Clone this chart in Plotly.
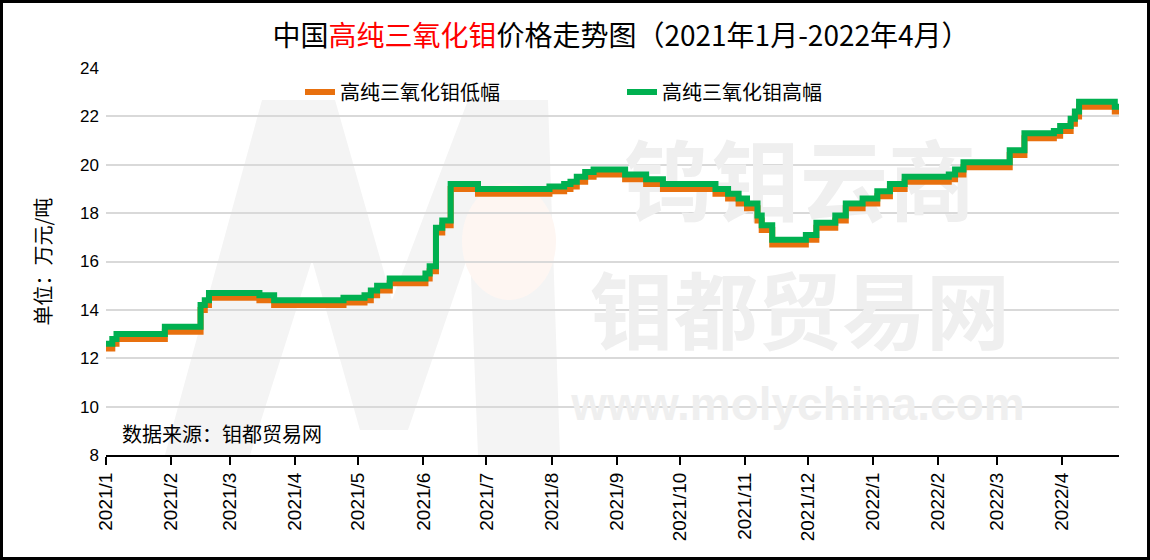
import plotly.graph_objects as go
import pandas as pd

# ---------------- data ----------------
change_dates = [
    "2021-01-01", "2021-01-04", "2021-01-06", "2021-01-29", "2021-02-15", "2021-02-17",
    "2021-02-19", "2021-03-15", "2021-03-22", "2021-04-24", "2021-05-04", "2021-05-07",
    "2021-05-10", "2021-05-16", "2021-06-02", "2021-06-04", "2021-06-07", "2021-06-10",
    "2021-06-14", "2021-06-27", "2021-07-31", "2021-08-07", "2021-08-10", "2021-08-13",
    "2021-08-17", "2021-08-21", "2021-09-05", "2021-09-15", "2021-09-23", "2021-10-18",
    "2021-10-24", "2021-10-29", "2021-11-02", "2021-11-07", "2021-11-09", "2021-11-14",
    "2021-11-30", "2021-12-05", "2021-12-14", "2021-12-19", "2021-12-27", "2022-01-03",
    "2022-01-09", "2022-01-16", "2022-02-06", "2022-02-09", "2022-02-13", "2022-03-07",
    "2022-03-14", "2022-03-28", "2022-03-31", "2022-04-05", "2022-04-07", "2022-04-09",
    "2022-04-26", "2022-04-28",
]
high_price = [
    12.6, 12.8, 13.0, 13.3, 14.2, 14.4,
    14.7, 14.6, 14.4, 14.5, 14.6, 14.8,
    15.0, 15.3, 15.5, 15.8, 17.4, 17.7,
    19.2, 19.0, 19.1, 19.2, 19.3, 19.5,
    19.7, 19.8, 19.6, 19.4, 19.2, 19.0,
    18.8, 18.6, 18.4, 17.9, 17.5, 16.9,
    17.1, 17.6, 17.9, 18.4, 18.6, 18.9,
    19.2, 19.5, 19.6, 19.8, 20.1, 20.6,
    21.3, 21.4, 21.6, 21.9, 22.2, 22.6,
    22.4, 22.4,
]
low_price = [
    12.4, 12.6, 12.8, 13.1, 14.0, 14.2,
    14.5, 14.4, 14.2, 14.3, 14.4, 14.6,
    14.8, 15.1, 15.3, 15.6, 17.2, 17.5,
    19.0, 18.8, 18.9, 19.0, 19.1, 19.3,
    19.5, 19.6, 19.4, 19.2, 19.0, 18.8,
    18.6, 18.4, 18.2, 17.7, 17.3, 16.7,
    16.9, 17.4, 17.7, 18.2, 18.4, 18.7,
    19.0, 19.3, 19.4, 19.6, 19.9, 20.4,
    21.1, 21.2, 21.4, 21.7, 22.0, 22.4,
    22.2, 22.2,
]
series_names = ["高纯三氧化钼低幅", "高纯三氧化钼高幅"]

month_ticks = [
    "2021-01-01", "2021-02-01", "2021-03-01", "2021-04-01", "2021-05-01", "2021-06-01",
    "2021-07-01", "2021-08-01", "2021-09-01", "2021-10-01", "2021-11-01", "2021-12-01",
    "2022-01-01", "2022-02-01", "2022-03-01", "2022-04-01",
]
month_labels = [
    "2021/1", "2021/2", "2021/3", "2021/4", "2021/5", "2021/6", "2021/7", "2021/8",
    "2021/9", "2021/10", "2021/11", "2021/12", "2022/1", "2022/2", "2022/3", "2022/4",
]
y_ticks = [8, 10, 12, 14, 16, 18, 20, 22, 24]

# ---------------- layout constants ----------------
W, H = 1150, 560
ML, MR, MT, MB = 106, 31, 68, 105
PW, PH = W - ML - MR, H - MT - MB
X_START, X_END = "2021-01-01", "2022-04-28"
Y_MIN, Y_MAX = 8, 24

CJK = "Noto Sans CJK SC"
ORANGE = "#E8700E"
GREEN = "#00B050"
WM = "#EFEFEF"


def px_x(px):
    t0, t1 = pd.Timestamp(X_START), pd.Timestamp(X_END)
    return (t0 + (t1 - t0) * ((px - ML) / PW)).strftime("%Y-%m-%d %H:%M:%S")


def px_y(py):
    return Y_MAX - (py - MT) / PH * (Y_MAX - Y_MIN)


def paper_x(px):
    return (px - ML) / PW


def paper_y(py):
    return (H - MB - py) / PH


fig = go.Figure()

# watermark texts (decorative, drawn first so they sit under the lines)
watermarks = [
    ("钨钼云商", 800, 192, 88, CJK, WM),
    ("钼都贸易网", 800, 322, 84, CJK, WM),
    ("www.molychina.com", 798, 408, 46, "Liberation Sans", WM),
]
for txt, cx, cy, size, fam, col in watermarks:
    fig.add_trace(go.Scatter(
        x=[px_x(cx)], y=[px_y(cy)], mode="text", text=[txt],
        textposition="middle center",
        textfont=dict(family=fam, size=size, color=col, weight="bold"),
        hoverinfo="skip", showlegend=False,
    ))

fig.add_trace(go.Scatter(
    x=change_dates, y=low_price, name=series_names[0], mode="lines",
    line=dict(color=ORANGE, width=6, shape="hv"),
))
fig.add_trace(go.Scatter(
    x=change_dates, y=high_price, name=series_names[1], mode="lines",
    line=dict(color=GREEN, width=6, shape="hv"),
))

fig.update_layout(
    width=W, height=H,
    margin=dict(l=ML, r=MR, t=MT, b=MB, pad=0),
    paper_bgcolor="white", plot_bgcolor="white",
    title=dict(
        text="中国<span style='color:#FF0000'>高纯三氧化钼</span>价格走势图（2021年1月-2022年4月）",
        x=621 / W, xanchor="center", y=1 - 36 / H, yanchor="middle",
        yref="container", xref="container",
        font=dict(family=CJK, size=28, color="black"),
    ),
    showlegend=True,
    legend=dict(
        orientation="h", x=paper_x(300), y=paper_y(92), xanchor="left", yanchor="middle",
        font=dict(family=CJK, size=20, color="black"), bgcolor="rgba(0,0,0,0)",
        entrywidth=277, entrywidthmode="pixels",
    ),
    xaxis=dict(
        type="date", range=[X_START, X_END],
        tickmode="array", tickvals=month_ticks, ticktext=month_labels,
        tickangle=-90, tickfont=dict(family="Liberation Sans", size=19, color="black"),
        showgrid=False, showline=True, linecolor="black", linewidth=2,
        ticks="outside", ticklen=8, tickwidth=2, tickcolor="black",
        zeroline=False,
    ),
    yaxis=dict(
        range=[Y_MIN, Y_MAX], tickmode="array", tickvals=y_ticks,
        tickfont=dict(family="Liberation Sans", size=17, color="black"),
        showgrid=True, gridcolor="#D9D9D9", gridwidth=2,
        showline=False, zeroline=False, ticks="", ticklabelstandoff=6,
    ),
    hovermode=False,
)


def pp(points):
    return "M" + " L".join(f"{paper_x(x):.4f},{paper_y(y):.4f}" for x, y in points) + " Z"


# faint logo behind the plot (italic "M", light circle)
logo_m = [(165, 455), (262, 100), (335, 100), (392, 300), (468, 100), (548, 100),
          (560, 455), (478, 455), (470, 250), (408, 430), (360, 430), (312, 260), (250, 455)]
fig.add_shape(type="path", xref="paper", yref="paper", path=pp(logo_m),
              fillcolor="#F4F4F4", line=dict(width=0), layer="below")
fig.add_shape(type="circle", xref="paper", yref="paper",
              x0=paper_x(462), x1=paper_x(556), y0=paper_y(300), y1=paper_y(183),
              fillcolor="#FEF6F2", line=dict(width=0), layer="below")

fig.add_annotation(
    text="单位：万元/吨", xref="paper", yref="paper",
    x=paper_x(42), y=0.5, xanchor="center", yanchor="middle", textangle=-90,
    showarrow=False, font=dict(family=CJK, size=20, color="black"),
)
fig.add_annotation(
    text="数据来源：钼都贸易网", xref="paper", yref="paper",
    x=paper_x(120), y=paper_y(433), xanchor="left", yanchor="middle",
    showarrow=False, font=dict(family=CJK, size=20, color="black"),
)

# outer frame of the picture
fig.add_shape(
    type="rect", xref="paper", yref="paper",
    x0=paper_x(1.5), x1=paper_x(W - 1.5), y0=paper_y(H - 1.5), y1=paper_y(1.5),
    line=dict(color="black", width=3), fillcolor="rgba(0,0,0,0)", layer="above",
)

fig.write_html("out.html", config={"displayModeBar": False},
               post_script="document.body.style.margin='0';")
